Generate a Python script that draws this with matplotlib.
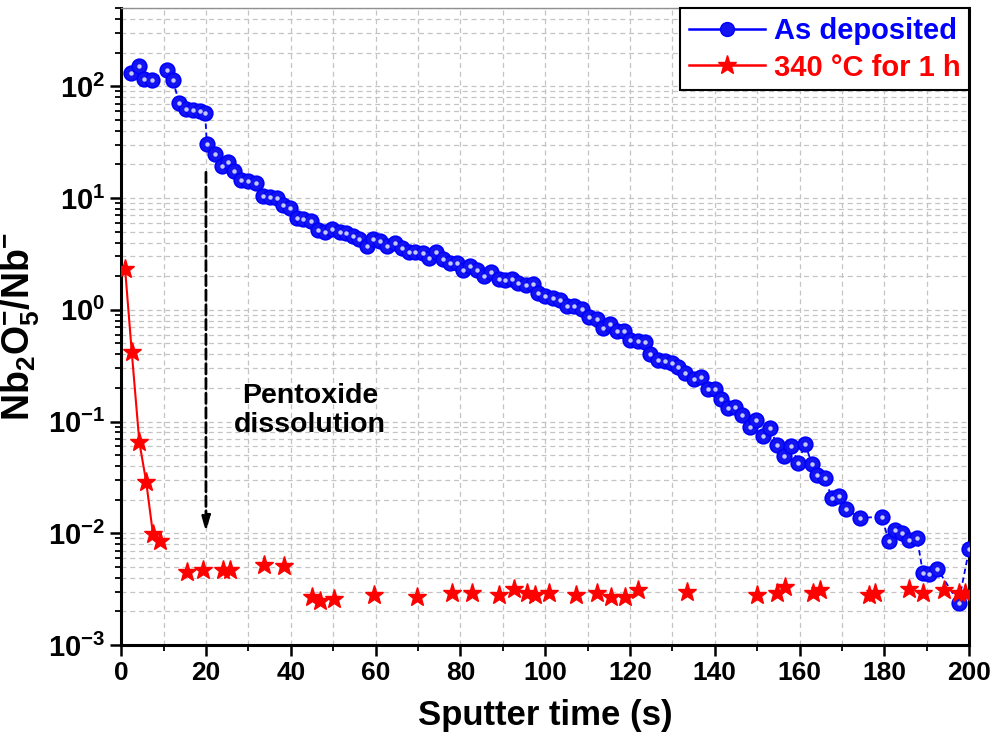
import matplotlib
matplotlib.use("Agg")
import matplotlib.pyplot as plt
from matplotlib.lines import Line2D
from matplotlib.ticker import FixedLocator, FixedFormatter, LogLocator, MultipleLocator, NullFormatter
import numpy as np

plt.rcParams['font.family'] = ['Liberation Sans', 'DejaVu Sans']
plt.rcParams['font.weight'] = 'bold'
plt.rcParams['mathtext.fontset'] = 'custom'
plt.rcParams['mathtext.rm'] = 'Liberation Sans:bold'
plt.rcParams['mathtext.bf'] = 'Liberation Sans:bold'
plt.rcParams['mathtext.it'] = 'Liberation Sans:bold'

# As deposited
t_dep = [2.3, 4.3, 5.5, 7.2, 10.8, 12.2, 13.7, 15.3, 16.9, 18.5, 19.8, 20.2, 22.2, 23.7,
         25.1, 26.7, 28.3, 30.0, 31.8, 33.4, 35.0, 36.7, 38.1, 39.9, 41.4, 43.0, 44.8,
         46.5, 48.1, 49.8, 51.5, 53.1, 54.6, 56.2, 57.9, 59.5, 61.1, 62.7, 64.6, 66.2,
         67.8, 69.3, 71.2, 72.7, 74.3, 75.9, 77.6, 79.2, 80.7, 82.3, 84.0, 85.6, 87.2,
         89.0, 90.6, 92.1, 93.7, 95.5, 97.2, 98.4, 100.0, 101.8, 103.5, 105.1, 106.7,
         108.7, 110.4, 112.2, 113.7, 115.3, 116.9, 118.5, 120.0, 121.8, 123.6, 124.8,
         126.7, 128.3, 129.9, 131.4, 133.0, 135.0, 136.7, 138.3, 140.1, 141.4, 143.2,
         144.8, 146.4, 148.2, 149.8, 151.3, 153.1, 154.6, 156.4, 157.9, 159.7, 161.3,
         162.9, 164.2, 166.0, 167.6, 169.4, 171.0, 174.3, 179.4, 181.0, 182.5, 184.1,
         185.9, 187.7, 189.1, 190.6, 192.5, 197.5, 200.0]
v_dep = [132, 153, 116, 113, 141, 113, 71, 63, 61, 60, 58, 30.7, 25, 19.5,
         21, 17.4, 14.4, 14.1, 13.6, 10.4, 10.2, 10.0, 8.7, 8.1, 6.6, 6.5, 6.2,
         5.2, 5.0, 5.25, 5.0, 4.86, 4.6, 4.3, 3.7, 4.3, 4.1, 3.7, 4.0, 3.6,
         3.3, 3.27, 3.2, 2.9, 3.3, 2.85, 2.63, 2.63, 2.29, 2.48, 2.29, 2.02, 2.16,
         1.89, 1.86, 1.89, 1.74, 1.68, 1.71, 1.41, 1.32, 1.27, 1.23, 1.09, 1.08,
         1.02, 0.87, 0.82, 0.69, 0.74, 0.64, 0.65, 0.54, 0.525, 0.51, 0.40,
         0.357, 0.346, 0.334, 0.31, 0.27, 0.24, 0.25, 0.195, 0.195, 0.158, 0.132,
         0.135, 0.115, 0.090, 0.104, 0.074, 0.0875, 0.062, 0.049, 0.061, 0.043, 0.063,
         0.042, 0.033, 0.031, 0.0207, 0.0214, 0.0165, 0.0137, 0.0141, 0.0086, 0.0106, 0.0100,
         0.0087, 0.0091, 0.0044, 0.0043, 0.0048, 0.0024, 0.0072]

# 340 C for 1 h (first points joined by a line, rest markers only)
t_ann = [0.94, 2.5, 4.3, 5.9, 7.5, 9.2, 15.6, 19.3, 24.0, 25.7, 33.7, 38.4, 45.0, 46.8,
         50.1, 59.7, 69.7, 78.0, 82.7, 89.2, 92.7, 95.7, 97.6, 100.8, 107.3, 112.2,
         115.5, 118.9, 122.0, 133.4, 149.9, 154.6, 156.6, 163.1, 164.9, 176.3, 177.8,
         185.9, 189.2, 194.1, 197.5, 199.1]
v_ann = [2.3, 0.42, 0.065, 0.029, 0.0099, 0.0086, 0.0045, 0.0047, 0.0047, 0.0047, 0.0052,
         0.0051, 0.0027, 0.0025, 0.0026, 0.0028, 0.0027, 0.0029, 0.0029, 0.0028, 0.0032,
         0.0029, 0.0028, 0.0029, 0.0028, 0.0029, 0.0027, 0.0027, 0.0031, 0.0030, 0.0028,
         0.0029, 0.0033, 0.0029, 0.0031, 0.0028, 0.0029, 0.0032, 0.0029, 0.0031, 0.0029,
         0.0029]
n_joined = 6

y_ticks = [1e-3, 1e-2, 1e-1, 1e0, 1e1, 1e2]
y_labels = [r'$\mathbf{10^{-3}}$', r'$\mathbf{10^{-2}}$', r'$\mathbf{10^{-1}}$',
            r'$\mathbf{10^{0}}$', r'$\mathbf{10^{1}}$', r'$\mathbf{10^{2}}$']

fig = plt.figure(figsize=(9.93, 7.44), dpi=100)
ax = fig.add_axes([0.122, 0.133, 0.854, 0.856])
ax.set_yscale('log')

# blue "sphere" markers
ax.plot(t_dep, v_dep, color='blue', lw=1.3, ls=(0, (3, 2)), marker='o', ms=10.5,
        mfc='#1414f0', mec='blue', mew=1.2, zorder=3)
ax.plot(t_dep, v_dep, ls='none', marker='o', ms=3.2, mfc='#c4c8ff', mec='none', zorder=4)

ax.plot(t_ann[:n_joined], v_ann[:n_joined], color='red', lw=1.5, zorder=3)
ax.plot(t_ann, v_ann, ls='none', marker='*', ms=14, color='red', mec='red', zorder=3)

ax.set_xlim(0, 200)
ax.set_ylim(1e-3, 500)

ax.xaxis.set_major_locator(MultipleLocator(20))
ax.xaxis.set_minor_locator(MultipleLocator(10))
ax.yaxis.set_major_locator(FixedLocator(y_ticks))
ax.yaxis.set_major_formatter(FixedFormatter(y_labels))
ax.yaxis.set_minor_locator(LogLocator(base=10, subs=np.arange(2, 10), numticks=20))
ax.yaxis.set_minor_formatter(NullFormatter())

ax.grid(which='both', color='#c4c4c4', ls=(0, (4, 3)), lw=0.9, zorder=0)
ax.set_axisbelow(True)

ax.tick_params(which='major', direction='out', length=8, width=1.8, labelsize=19,
               top=False, right=False)
ax.tick_params(axis='y', which='major', labelsize=21)
ax.tick_params(which='minor', direction='out', length=4, width=1.3, top=False, right=False)
for lab in ax.get_xticklabels():
    lab.set_fontweight('bold')

for side in ['left', 'bottom', 'right']:
    ax.spines[side].set_linewidth(2.2)
    ax.spines[side].set_color('black')
ax.spines['top'].set_linewidth(1.0)
ax.spines['top'].set_color('#909090')

ax.set_xlabel('Sputter time (s)', fontsize=25, fontweight='bold', labelpad=10)
ax.set_ylabel(r'Nb$_\mathbf{2}$O$_\mathbf{5}^{\mathbf{-}}$/Nb$^{\mathbf{-}}$', fontsize=27,
              fontweight='bold', labelpad=4)

ax.annotate('', xy=(20, 0.0097), xytext=(20, 18),
            arrowprops=dict(arrowstyle='-|>,head_length=0.9,head_width=0.25', ls='--',
                            lw=2, color='black'))
ax.text(44.5, 0.125, 'Pentoxide\ndissolution', ha='center', va='center',
        fontsize=20.5, fontweight='bold', linespacing=1.15)

handles = [Line2D([], [], color='blue', lw=1.8, marker='o', ms=10, mfc='#1414f0', mec='blue'),
           Line2D([], [], color='red', lw=1.8, marker='*', ms=14)]
leg = ax.legend(handles, ['As deposited', '340 °C for 1 h'], loc='upper right',
                bbox_to_anchor=(1.0, 1.0), borderaxespad=0.0, fancybox=False,
                edgecolor='black', framealpha=1, handlelength=2.6, handletextpad=0.3,
                borderpad=0.3, labelspacing=0.3, prop={'size': 21, 'weight': 'bold'},
                labelcolor=['blue', 'red'])
leg.get_frame().set_linewidth(1.5)

fig.savefig('out.png', dpi=100)
